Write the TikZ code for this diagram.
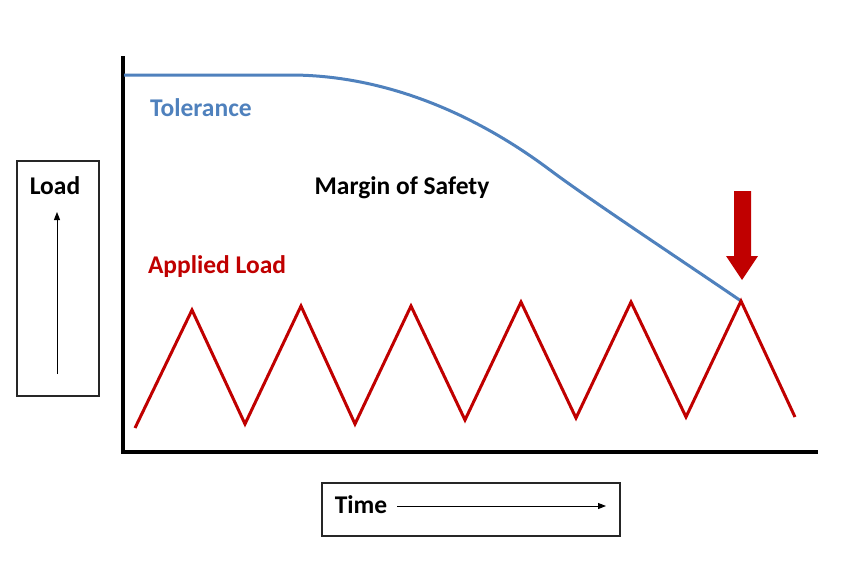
\documentclass[tikz,border=0pt]{standalone}
\usepackage{fontspec}
\setmainfont{Carlito}
\usetikzlibrary{arrows.meta}
\definecolor{tolblue}{RGB}{79,129,189}
\definecolor{loadred}{RGB}{192,0,0}
\begin{document}
\begin{tikzpicture}[x=1pt,y=-1pt,
  lbl/.style={font=\fontsize{25.5}{28}\selectfont\bfseries, inner sep=0pt},
  frame/.style={draw=black!85, line width=1.3pt},
  thinarrow/.style={line width=1pt, -{Triangle[length=8pt,width=6pt]}},
  axis/.style={line width=3.8pt, line cap=rect}]
\useasboundingbox (0,0) rectangle (855,565);
\fill[white] (0,0) rectangle (855,565);
% axes
\coordinate (ytop) at (123,58);
\coordinate (orig) at (123,452);
\coordinate (xend) at (816,452);
\draw[axis] (ytop) -- (orig) -- (xend);
% tolerance curve
\draw[tolblue, line width=3pt] (124,75) -- (290,75) .. controls (380,75) and (470,110) .. (550,170) .. controls (590,200) and (690,266) .. (741,301);
% applied load zigzag
\draw[loadred, line width=3pt, line join=miter] (135,428) -- (192,310) -- (245,424) -- (301,306) -- (355,424) -- (411,306) -- (465,420) -- (521,302) -- (576,418) -- (631,302) -- (686,417) -- (741,301) -- (795,417);
% big red arrow
\fill[loadred] (734,191) -- (751,191) -- (751,256) -- (758,256) -- (742,280) -- (726,256) -- (734,256) -- cycle;
% labels
\node[lbl, text=tolblue] (tol) at (201,108) {Tolerance};
\node[lbl] (mos) at (402,188) {Margin of Safety};
\node[lbl, text=loadred] (al) at (217,267) {Applied Load};
% load box
\node[frame, minimum width=82pt, minimum height=235pt, inner sep=0pt] (loadbox) at (58,278.5) {};
\node[lbl] (loadtxt) at (55,186) {Load};
\coordinate (la1) at (57,374);
\coordinate (la2) at (57,212);
\draw[thinarrow] (la1) -- (la2);
% time box
\node[frame, minimum width=298pt, minimum height=53pt, inner sep=0pt] (timebox) at (471,509.5) {};
\node[lbl] (timetxt) at (361,505) {Time};
\coordinate (ta1) at (397,506);
\coordinate (ta2) at (606,506);
\draw[thinarrow] (ta1) -- (ta2);
\end{tikzpicture}
\end{document}
